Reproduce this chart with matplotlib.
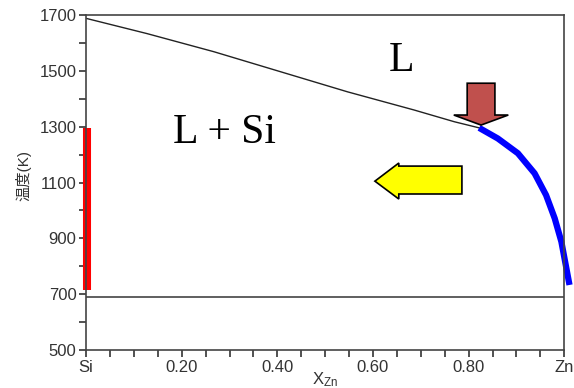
import numpy as np
import matplotlib
matplotlib.use("Agg")
import matplotlib.pyplot as plt
from matplotlib.patches import Polygon
from matplotlib.ticker import MultipleLocator

plt.rcParams['font.family'] = ['Liberation Sans', 'Noto Sans CJK JP', 'DejaVu Sans']

# liquidus line (x_Zn, T in K)
liq_x = [0.001, 0.127, 0.267, 0.407, 0.547, 0.686, 0.770, 0.822]
liq_t = [1688, 1634, 1569, 1497, 1425, 1360, 1318, 1296]

# blue highlighted part of the liquidus
blue_x = [0.822, 0.861, 0.903, 0.938, 0.962, 0.980, 0.994, 1.011]
blue_t = [1296, 1258, 1205, 1133, 1055, 972, 888, 733]

# eutectic line and red bar on the Si side
eut_t = 690
red_t = [715, 1297]

xtick_pos = [0.0, 0.2, 0.4, 0.6, 0.8, 1.0]
xtick_lab = ['Si', '0.20', '0.40', '0.60', '0.80', 'Zn']
ytick_pos = [500, 700, 900, 1100, 1300, 1500, 1700]

# arrows (data coords)
brown_arrow = [(0.797, 1456), (0.855, 1456), (0.855, 1342), (0.883, 1342),
               (0.826, 1306), (0.769, 1342), (0.797, 1342)]
yellow_arrow = [(0.786, 1159), (0.654, 1159), (0.654, 1170), (0.604, 1105),
                (0.654, 1041), (0.654, 1059), (0.786, 1059)]

fig = plt.figure(figsize=(5.74, 3.88), dpi=100)
ax = fig.add_axes([0.150, 0.098, 0.833, 0.863])

ax.plot(liq_x, liq_t, color='#222222', lw=1.0)
ax.plot(blue_x, blue_t, color='#0000ff', lw=4.5, solid_capstyle='butt',
        solid_joinstyle='round', clip_on=False)
ax.plot([0, 1], [eut_t, eut_t], color='#444444', lw=1.2)
ax.plot([0.002, 0.002], red_t, color='#ff0000', lw=5.8, solid_capstyle='butt', clip_on=False)

ax.add_patch(Polygon(brown_arrow, closed=True, fc='#c0504d', ec='black', lw=1.2, zorder=5))
ax.add_patch(Polygon(yellow_arrow, closed=True, fc='#ffff00', ec='black', lw=1.2, zorder=5))

ax.text(0.634, 1500, 'L', family='Liberation Serif', fontsize=30, color='black')
ax.text(0.182, 1242, 'L + Si', family='Liberation Serif', fontsize=30, color='black')

ax.set_xlim(0, 1)
ax.set_ylim(500, 1700)
ax.set_xticks(xtick_pos)
ax.set_xticklabels(xtick_lab)
ax.xaxis.set_minor_locator(MultipleLocator(0.05))
ax.set_yticks(ytick_pos)
ax.yaxis.set_minor_locator(MultipleLocator(100))
ax.tick_params(which='both', direction='out', length=5, width=1.2, color='#333333',
               labelsize=12, labelcolor='#333333', pad=2)

for s in ax.spines.values():
    s.set_color('#444444')
    s.set_linewidth(1.2)

ax.set_ylabel('温度(K)', fontsize=11, color='#333333')
ax.yaxis.set_label_coords(-0.115, 0.52)
ax.set_xlabel(r'$\mathregular{X_{Zn}}$', fontsize=12, color='#333333', labelpad=-3)

fig.savefig('out.png', dpi=100)
